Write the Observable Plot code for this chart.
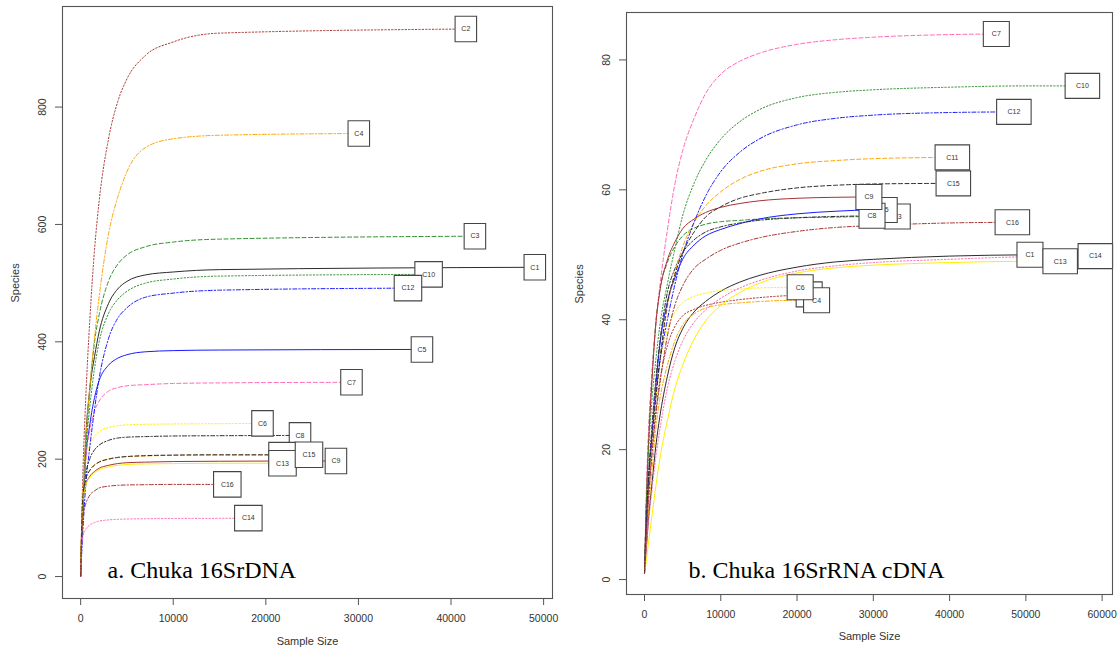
<!DOCTYPE html>
<html>
<head>
<meta charset="utf-8">
<script src="https://cdn.jsdelivr.net/npm/d3@7"></script>
<script src="https://cdn.jsdelivr.net/npm/@observablehq/plot@0.6"></script>
<style>
  html, body { margin: 0; padding: 0; background: #fff; }
  #panels { display: flex; width: 1118px; height: 653px; }
  #panels svg { display: block; }
</style>
</head>
<body>
<div id="panels"></div>
<script>
// Sample names, shared by both panels
const sampleNames = ["C1", "C2", "C3", "C4", "C5", "C6", "C7", "C8",
                     "C9", "C10", "C11", "C12", "C13", "C14", "C15", "C16"];

// ---- Panel a: 16S rDNA rarefaction ----
const dnaDepth = [1, 100, 250, 500, 1000, 1500, 2000, 3000, 4000, 5000, 7000, 10000, 15000];
const dnaCurves = [
  [1, 55, 120, 220, 322, 375, 417, 465, 490, 503, 514, 519, 523],          // C1
  [1, 85, 180, 285, 440, 557, 640, 745, 809, 848, 888, 911, 926],          // C2
  [1, 60, 120, 200, 320, 400, 446, 503, 532, 548, 562, 570, 575],          // C3
  [1, 70, 140, 220, 325, 408, 477, 583, 646, 690, 731, 746, 752],          // C4
  [1, 55, 120, 190, 260, 305, 334, 360, 372, 378, 383, 385, 386],          // C5
  [1, 70, 135, 190, 224, 239, 247, 254, 257, 258.5, 259.5, 260, 260.5],    // C6
  [1, 60, 120, 190, 250, 282, 299, 316, 322, 325, 327, 329, 330],          // C7
  [1, 65, 125, 168, 201, 216, 224, 232, 236, 237.5, 238.5, 239.5, 240],    // C8
  [1, 70, 128, 153, 171, 179, 184.5, 189.5, 192.5, 194, 195, 196, 196.5],  // C9
  [1, 50, 105, 195, 290, 355, 400, 448, 472, 486, 500, 507, 512],          // C10
  [1, 80, 140, 164, 182, 190.5, 195.5, 200.5, 203, 204.5, 205.5, 206.5, 207], // C11
  [1, 35, 80, 145, 222, 285, 338, 405, 440, 458, 476, 483, 488],           // C12
  [1, 72, 130, 152, 169, 177, 182, 187, 189.5, 191, 192, 192.5, 193],      // C13
  [1, 45, 69, 79, 88, 92, 94.5, 96.5, 97.5, 98, 98.5, 99, 99.2],           // C14
  [1, 78, 138, 163, 181, 190, 195, 200, 203, 204.5, 206, 207, 207.5],      // C15
  [1, 60, 104, 121, 139, 146, 151, 154, 155.5, 156, 156.5, 157, 157]       // C16
];
const dnaEndDepth   = [49050, 41600, 42580, 30040, 36860, 19640, 29250, 23690,
                       27570, 37580, 21800, 35350, 21800, 18110, 24660, 15840];
const dnaEndSpecies = [527, 933, 580, 755, 387, 261, 331, 240.5,
                       197, 515, 207, 491.5, 193, 99.5, 207.5, 157];
const dnaXTicks = [0, 10000, 20000, 30000, 40000, 50000];
const dnaYTicks = [0, 200, 400, 600, 800];

// ---- Panel b: 16S rRNA cDNA rarefaction ----
const rnaDepth = [1, 250, 500, 1000, 1500, 2000, 3000, 4000, 5000, 6500, 8000,
                  10000, 12500, 15000, 20000, 25000, 30000, 40000, 50000];
const rnaCurves = [
  [1, 5, 9, 15, 20.7, 25, 31.3, 35.8, 38.6, 41.2, 42.8, 44.4, 45.8, 46.8, 48.1, 48.9, 49.3, 49.8],       // C1
  [1, 7, 12, 20, 26, 30.5, 36, 39, 40.6, 41.6, 42.2, 42.7, 43.1, 43.4, 43.8],                           // C2
  [1, 12, 21, 32, 39.8, 44.5, 48.8, 51.3, 52.9, 54.1, 54.7, 55.1, 55.3, 55.5, 55.7, 55.8, 55.9],        // C3
  [1, 6, 10, 17, 23.5, 27.7, 33, 36.8, 39.2, 40.9, 41.8, 42.3, 42.6, 42.8, 43.0],                       // C4
  [1, 8, 14, 22.5, 30, 36, 42.7, 46.5, 49.3, 51.5, 52.9, 53.9, 54.8, 55.5, 56.3, 56.7, 56.9],           // C5
  [1, 8, 14, 22, 28, 33, 38.5, 41.2, 42.6, 43.6, 44.1, 44.5, 44.7, 44.9],                               // C6
  [1, 14, 22, 32, 39.5, 45, 53.8, 61, 66, 71, 74.8, 77.8, 79.8, 81, 82.4, 83.1, 83.5, 83.9],            // C7
  [1, 9, 15, 24, 31, 36.5, 44.2, 47.9, 50.3, 52.3, 53.5, 54.3, 54.9, 55.3, 55.7, 55.9],                 // C8
  [1, 12, 20, 31, 39.5, 44.3, 49.2, 52, 54, 55.5, 56.5, 57.3, 57.9, 58.3, 58.7, 58.85],                 // C9
  [1, 12, 19, 28, 34, 39, 45.5, 51, 56, 61, 64.5, 67.8, 70.5, 72.3, 74.2, 75, 75.4, 75.8, 76.0],        // C10
  [1, 9, 15, 23, 29, 33.5, 42, 47.3, 51.2, 55, 57.5, 59.7, 61.6, 62.8, 64, 64.5, 64.8],                 // C11
  [1, 9, 15, 23, 29, 33.5, 40, 45.5, 50, 55, 59, 62.8, 65.8, 67.8, 70, 71, 71.5, 71.9],                 // C12
  [1, 3, 5.5, 10, 14.5, 18.5, 24.5, 29.5, 33, 37, 39.8, 42.2, 44.2, 45.6, 47.2, 48, 48.4, 48.8, 49.0],  // C13
  [1, 5, 8.5, 14, 19, 23, 29.5, 33.7, 36.7, 39.6, 41.5, 43.3, 44.9, 46, 47.5, 48.3, 48.8, 49.3, 49.7],  // C14
  [1, 9, 15, 22, 28, 33.5, 42.5, 47, 50.3, 53.5, 55.8, 57.4, 58.7, 59.4, 60.3, 60.7, 60.9],             // C15
  [1, 7, 12, 19.5, 25.5, 30, 37.5, 42.3, 45.2, 47.9, 49.3, 50.7, 51.8, 52.6, 53.6, 54.2, 54.5, 54.9]    // C16
];
const rnaEndDepth   = [50540, 21590, 33140, 22560, 31430, 20410, 46130, 29830,
                       29420, 57410, 40360, 48430, 54500, 59110, 40490, 48230];
const rnaEndSpecies = [50.0, 43.9, 55.9, 43.0, 56.9, 45.0, 84.0, 56.0,
                       58.9, 76.0, 65.0, 72.0, 49.0, 49.8, 61.0, 55.0];
const rnaXTicks = [0, 10000, 20000, 30000, 40000, 50000, 60000];
const rnaYTicks = [0, 20, 40, 60, 80];

// Line styles, recycled over the samples
const lineColors = ["#2b2b2b", "#a83232", "#2f8f2f", "#ffa500", "#1a1aff", "#ffee00", "#ff69b4"];
const lineDashes = [undefined, "1.4,2", "4,2.5", "1.4,2,4,2"];

const sansFont = "'Liberation Sans', Arial, Helvetica, sans-serif";
const serifFont = "'Liberation Serif', 'Times New Roman', Times, serif";

function buildRows(depth, curves, endDepth, endSpecies) {
  return sampleNames.map((name, i) => {
    const pts = curves[i].map((s, j) => ({depth: depth[j], species: s}));
    const end = {depth: endDepth[i], species: endSpecies[i], name};
    pts.push(end);
    return {name, i, pts, end};
  });
}

// Rectangular label frame usable as a dot symbol
function boxSymbol(w, h) {
  return {draw(ctx) { ctx.rect(-w / 2, -h / 2, w, h); }};
}

function panel(o) {
  const rows = buildRows(o.depth, o.curves, o.endDepth, o.endSpecies);
  const marks = [];
  for (const r of rows) {
    marks.push(Plot.line(r.pts, {
      x: "depth", y: "species",
      stroke: lineColors[r.i % lineColors.length],
      strokeDasharray: lineDashes[r.i % lineDashes.length],
      strokeWidth: 1,
      curve: "monotone-x"
    }));
  }
  for (const r of rows) {
    const w = r.name.length > 2 ? o.wideBox : o.narrowBox;
    marks.push(Plot.dot([r.end], {
      x: "depth", y: "species", symbol: boxSymbol(w, o.boxHeight),
      fill: "white", stroke: "#454545", strokeWidth: 1.1
    }));
    marks.push(Plot.text([r.end], {
      x: "depth", y: "species", text: "name",
      fontSize: 7, fill: "#333", fontFamily: sansFont
    }));
  }
  marks.push(
    Plot.frame({stroke: "#555", strokeWidth: 1.1}),
    Plot.axisX({ticks: o.xTicks, anchor: "bottom", tickSize: 7, tickPadding: 9,
      tickFormat: d3.format("d"), fontSize: 10.5, stroke: "#555", color: "#333", label: null}),
    Plot.axisY({ticks: o.yTicks, anchor: "left", tickSize: 7, tickPadding: 10, tickRotate: -90,
      tickFormat: d3.format("d"), fontSize: 10.5, stroke: "#555", color: "#333", label: null}),
    Plot.text(["Sample Size"], {text: d => d, frameAnchor: "bottom", dy: o.xLabelOffset,
      fontSize: 11, fill: "#333", fontFamily: sansFont}),
    Plot.text(["Species"], {text: d => d, frameAnchor: "left", dx: -47, rotate: -90,
      fontSize: 11, fill: "#333", fontFamily: sansFont}),
    Plot.text([o.caption], {text: d => d, frameAnchor: "bottom-left",
      dx: o.captionDx, dy: o.captionDy, textAnchor: "start", lineAnchor: "bottom",
      fontSize: 24, fill: "#000", fontFamily: serifFont})
  );
  return Plot.plot({
    width: 559, height: 653,
    marginLeft: o.margins[0], marginRight: o.margins[1],
    marginTop: o.margins[2], marginBottom: o.margins[3],
    x: {domain: o.xDomain},
    y: {domain: o.yDomain},
    style: {fontFamily: sansFont, background: "white"},
    marks
  });
}

const host = document.getElementById("panels");
host.append(panel({
  depth: dnaDepth, curves: dnaCurves, endDepth: dnaEndDepth, endSpecies: dnaEndSpecies,
  xTicks: dnaXTicks, yTicks: dnaYTicks,
  xDomain: [-1960, 50960], yDomain: [-37.4, 971.4],
  margins: [62, 7, 6, 55],
  narrowBox: 21.5, wideBox: 27.5, boxHeight: 25.5,
  xLabelOffset: 46,
  caption: "a. Chuka 16SrDNA", captionDx: 45, captionDy: -21
}));
host.append(panel({
  depth: rnaDepth, curves: rnaCurves, endDepth: rnaEndDepth, endSpecies: rnaEndSpecies,
  xTicks: rnaXTicks, yTicks: rnaYTicks,
  xDomain: [-2360, 61360], yDomain: [-2.3, 87.3],
  margins: [67, 6, 12, 59],
  narrowBox: 26, wideBox: 34.5, boxHeight: 25,
  xLabelOffset: 45,
  caption: "b. Chuka 16SrRNA cDNA", captionDx: 62, captionDy: -17
}));
</script>
</body>
</html>
